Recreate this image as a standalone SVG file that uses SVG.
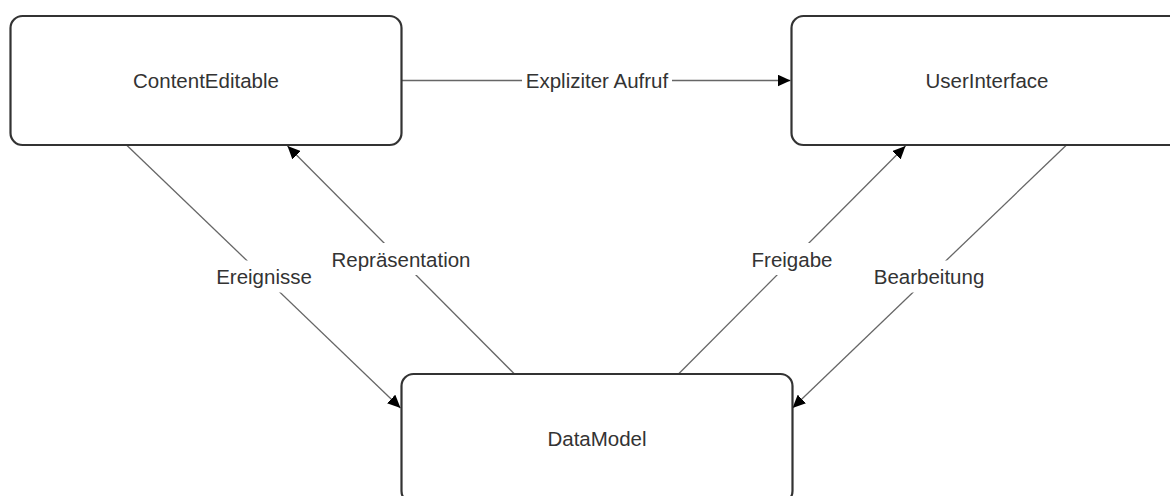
<svg xmlns="http://www.w3.org/2000/svg" width="1170" height="496" viewBox="0 0 1170 496">
<style>
.node rect{fill:#fff;stroke:#333;stroke-width:2.2}
text{font-family:"Liberation Sans",Arial,sans-serif;font-size:20.5px;fill:#333;text-anchor:middle}
.edge line{stroke:#666;stroke-width:1.3}
.lbl{fill:#fff;stroke:none}
</style>
<defs>
<marker id="arr" markerUnits="userSpaceOnUse" markerWidth="14" markerHeight="12" refX="13" refY="6" orient="auto">
<path d="M0,0 L13,6 L0,12 Z" fill="#000"/>
</marker>
</defs>
<rect width="1170" height="496" fill="#fff"/>
<g id="connectors" class="edge">
<line x1="402" y1="80.5" x2="790.5" y2="80.5" marker-end="url(#arr)"/>
<line x1="126.5" y1="145" x2="400.5" y2="408" marker-end="url(#arr)"/>
<line x1="514.5" y1="374" x2="287.5" y2="146" marker-end="url(#arr)"/>
<line x1="678.5" y1="374" x2="905.5" y2="146" marker-end="url(#arr)"/>
<line x1="1066.5" y1="145" x2="792.5" y2="408" marker-end="url(#arr)"/>
<rect class="lbl" x="522" y="64.5" width="150" height="32"/>
<rect class="lbl" x="214" y="260.5" width="100" height="32"/>
<rect class="lbl" x="329" y="243" width="144" height="32"/>
<rect class="lbl" x="749" y="243" width="86" height="32"/>
<rect class="lbl" x="871" y="260.5" width="116" height="32"/>
<text x="597" y="88">Expliziter Aufruf</text>
<text x="264" y="284">Ereignisse</text>
<text x="401" y="266.5">Repräsentation</text>
<text x="792" y="266.5">Freigabe</text>
<text x="929" y="284">Bearbeitung</text>
</g>
<g id="ContentEditable" class="node">
<rect x="10.5" y="16" width="391" height="129" rx="12" ry="12"/>
<text x="206" y="88">ContentEditable</text>
</g>
<g id="UserInterface" class="node">
<rect x="791.5" y="16" width="391" height="129" rx="12" ry="12"/>
<text x="987" y="88">UserInterface</text>
</g>
<g id="DataModel" class="node">
<rect x="401.5" y="374" width="391" height="129" rx="12" ry="12"/>
<text x="597" y="446">DataModel</text>
</g>
</svg>
